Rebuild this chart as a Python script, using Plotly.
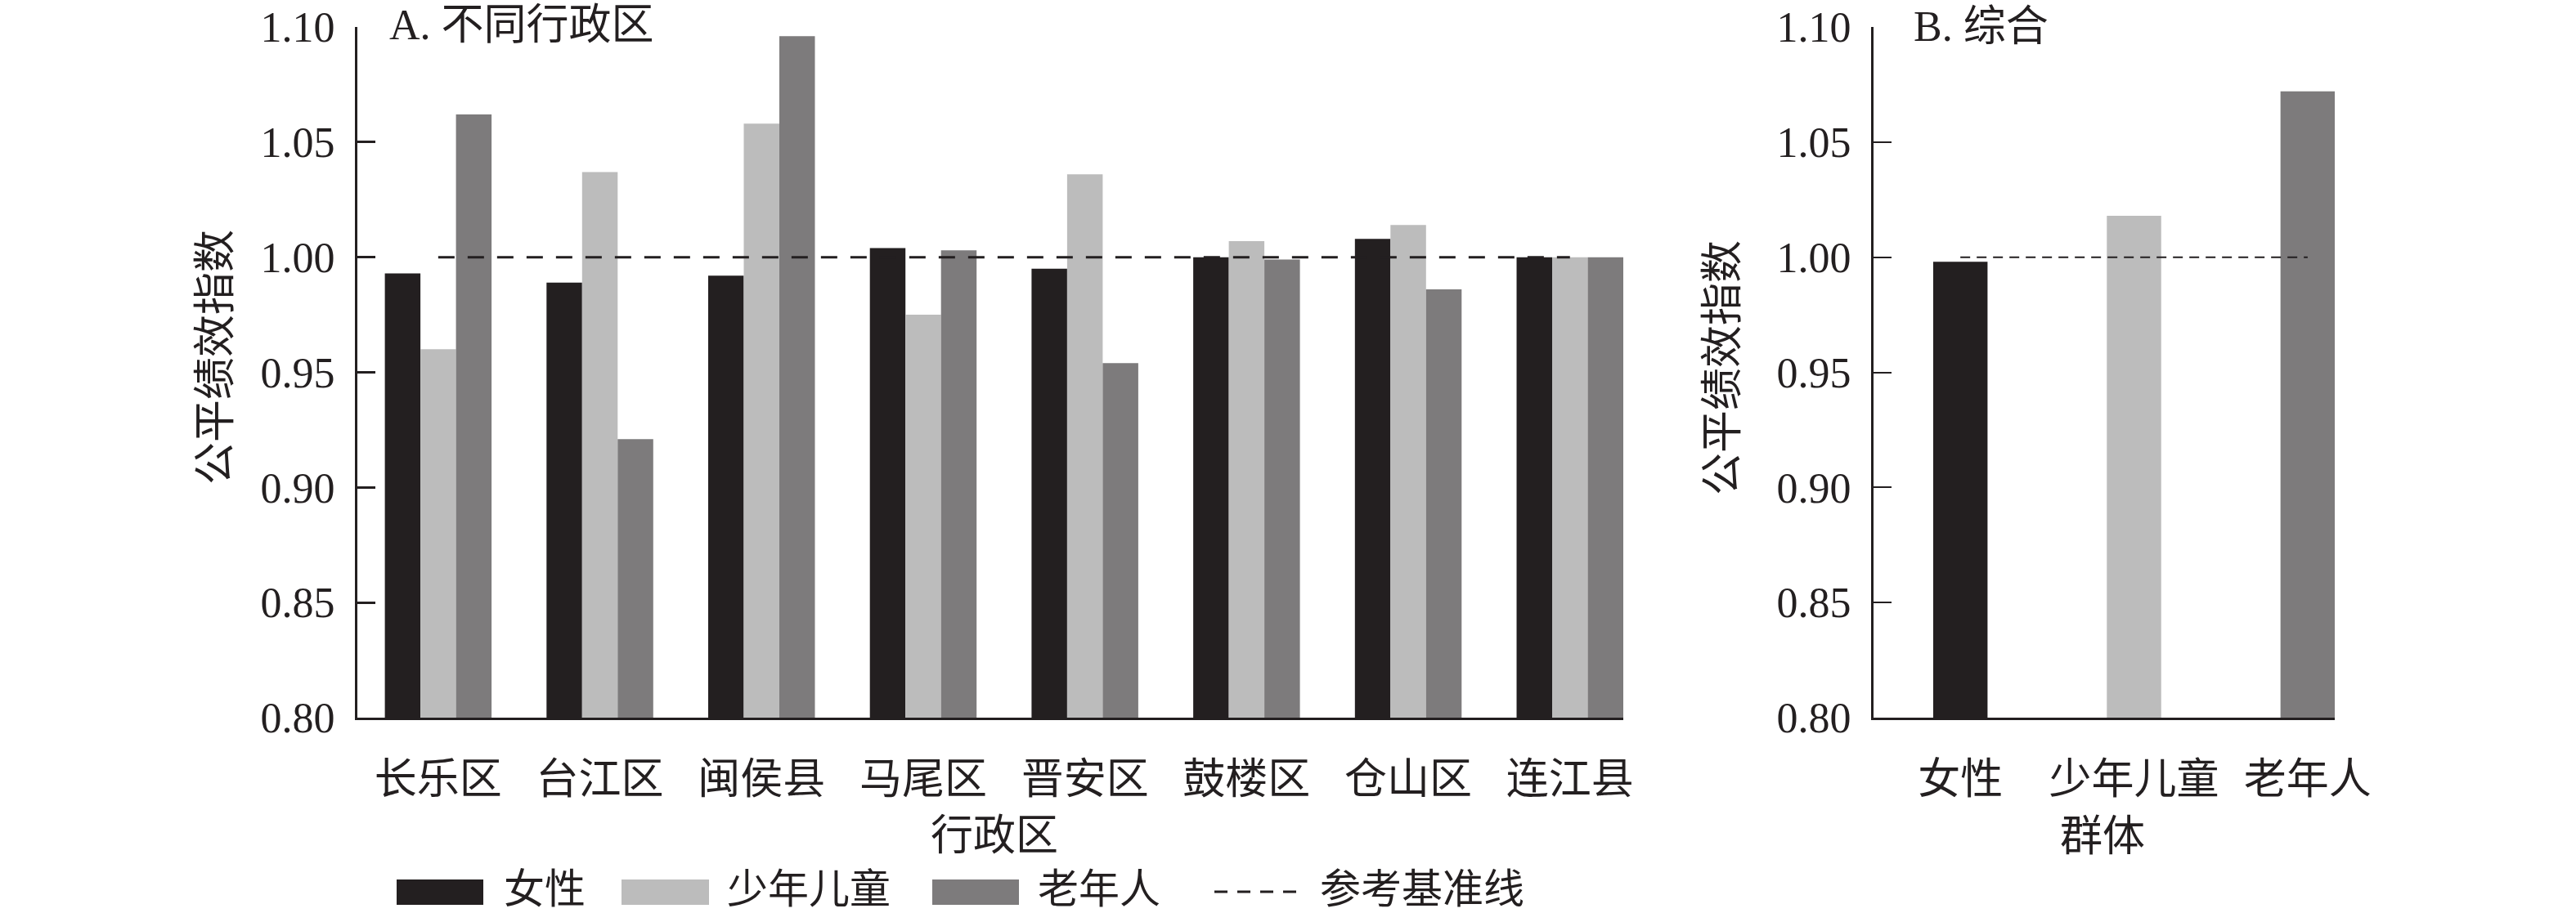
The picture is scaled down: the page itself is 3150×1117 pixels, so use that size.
import plotly.graph_objects as go

# ---------------- data ----------------
districts = ["长乐区", "台江区", "闽侯县", "马尾区", "晋安区", "鼓楼区", "仓山区", "连江县"]
female = [0.993, 0.989, 0.992, 1.004, 0.995, 1.000, 1.008, 1.000]
children = [0.960, 1.037, 1.058, 0.975, 1.036, 1.007, 1.014, 1.000]
elderly = [1.062, 0.921, 1.096, 1.003, 0.954, 0.999, 0.986, 1.000]

groups = ["女性", "少年儿童", "老年人"]
overall = [0.998, 1.018, 1.072]

baseline = 1.0
y_ticks = [0.80, 0.85, 0.90, 0.95, 1.00, 1.05, 1.10]
series_names = ["女性", "少年儿童", "老年人"]
ref_name = "参考基准线"

# ---------------- style ----------------
W, H = 3150, 1117
C_BLACK = "#231f20"
C_LIGHT = "#bcbcbc"
C_DARK = "#7d7b7c"
colors = [C_BLACK, C_LIGHT, C_DARK]
FONT = "'Liberation Serif', 'Times New Roman', 'Noto Sans CJK SC', serif"
CJK = "'Liberation Serif', 'Noto Sans CJK SC', serif"


def px(x):
    return x / W


def py(y):
    return 1 - y / H


fig = go.Figure()

for name, vals, col in zip(series_names, [female, children, elderly], colors):
    fig.add_trace(go.Bar(x=districts, y=vals, name=name, marker=dict(color=col, line=dict(width=0)),
                         xaxis="x", yaxis="y", showlegend=False))

fig.add_trace(go.Scatter(x=[districts[0], districts[-1]], y=[baseline, baseline], mode="lines",
                         line=dict(color=C_BLACK, width=3, dash="20px,16px"),
                         xaxis="x", yaxis="y", showlegend=False))

fig.add_trace(go.Bar(x=groups, y=overall, marker=dict(color=colors, line=dict(width=0)),
                     width=0.313, xaxis="x2", yaxis="y2", showlegend=False))
fig.add_trace(go.Scatter(x=[groups[0], groups[-1]], y=[baseline, baseline], mode="lines",
                         line=dict(color=C_BLACK, width=2, dash="12px,8px"),
                         xaxis="x2", yaxis="y2", showlegend=False))

ydom = [py(878), py(33)]
axis_common = dict(showline=True, linecolor=C_BLACK, linewidth=3, showgrid=False, zeroline=False,
                   automargin=False, tickfont=dict(family=FONT, size=52, color=C_BLACK))

fig.update_layout(
    template="none",
    width=W, height=H,
    margin=dict(l=0, r=0, t=0, b=0, autoexpand=False),
    paper_bgcolor="white", plot_bgcolor="white",
    barmode="group", bargap=0.34, bargroupgap=0,
    xaxis=dict(domain=[px(437), px(1985)], range=[-0.5, 7.33], anchor="y", ticks="",
               ticklabelstandoff=28, **axis_common),
    yaxis=dict(domain=ydom, range=[0.80, 1.10], anchor="x", tickvals=y_ticks,
               ticktext=[f"{v:.2f}" for v in y_ticks], ticks="inside", ticklen=22, tickwidth=3,
               tickcolor=C_BLACK, ticklabelstandoff=14, **axis_common),
    xaxis2=dict(domain=[px(2291), px(2855)], range=[-0.5, 2.156], anchor="y2", ticks="",
                ticklabelstandoff=28, **axis_common),
    yaxis2=dict(domain=ydom, range=[0.80, 1.10], anchor="x2", tickvals=y_ticks,
                ticktext=[f"{v:.2f}" for v in y_ticks], ticks="inside", ticklen=22, tickwidth=2,
                tickcolor=C_BLACK, ticklabelstandoff=14, **axis_common),
    font=dict(family=FONT, color=C_BLACK),
    showlegend=False,
)

ann = []


def text(x, y, s, size=52, xanchor="center", angle=0):
    ann.append(dict(x=px(x), y=py(y), xref="paper", yref="paper", text=s, showarrow=False,
                    xanchor=xanchor, yanchor="middle", textangle=angle, borderpad=0,
                    font=dict(family=CJK, size=size, color=C_BLACK)))


text(475, 30, "A. 不同行政区", xanchor="left")
text(2339, 32, "B. 综合", xanchor="left")
text(263, 437, "公平绩效指数", angle=-90)
text(2107, 450, "公平绩效指数", angle=-90)
text(1216, 1022, "行政区")
text(2571, 1023, "群体")

# manual legend
shapes = []
leg_y = 1088
rects = [(485, 591), (760, 867), (1140, 1246)]
labels_x = [615, 888, 1268]
for (x0, x1), col, lx, name in zip(rects, colors, labels_x, series_names):
    shapes.append(dict(type="rect", xref="paper", yref="paper", x0=px(x0), x1=px(x1),
                       y0=py(1107), y1=py(1076), fillcolor=col, line=dict(width=0)))
    text(lx, leg_y, name, size=50, xanchor="left")
shapes.append(dict(type="line", xref="paper", yref="paper", x0=px(1485), x1=px(1585),
                   y0=py(1091), y1=py(1091), line=dict(color=C_BLACK, width=3, dash="16px,12px")))
text(1613, leg_y, ref_name, size=50, xanchor="left")

fig.update_layout(annotations=ann, shapes=shapes)
fig.write_html("out.html", config={"displayModeBar": False},
               post_script="document.body.style.margin='0';document.body.style.overflow='hidden';")
